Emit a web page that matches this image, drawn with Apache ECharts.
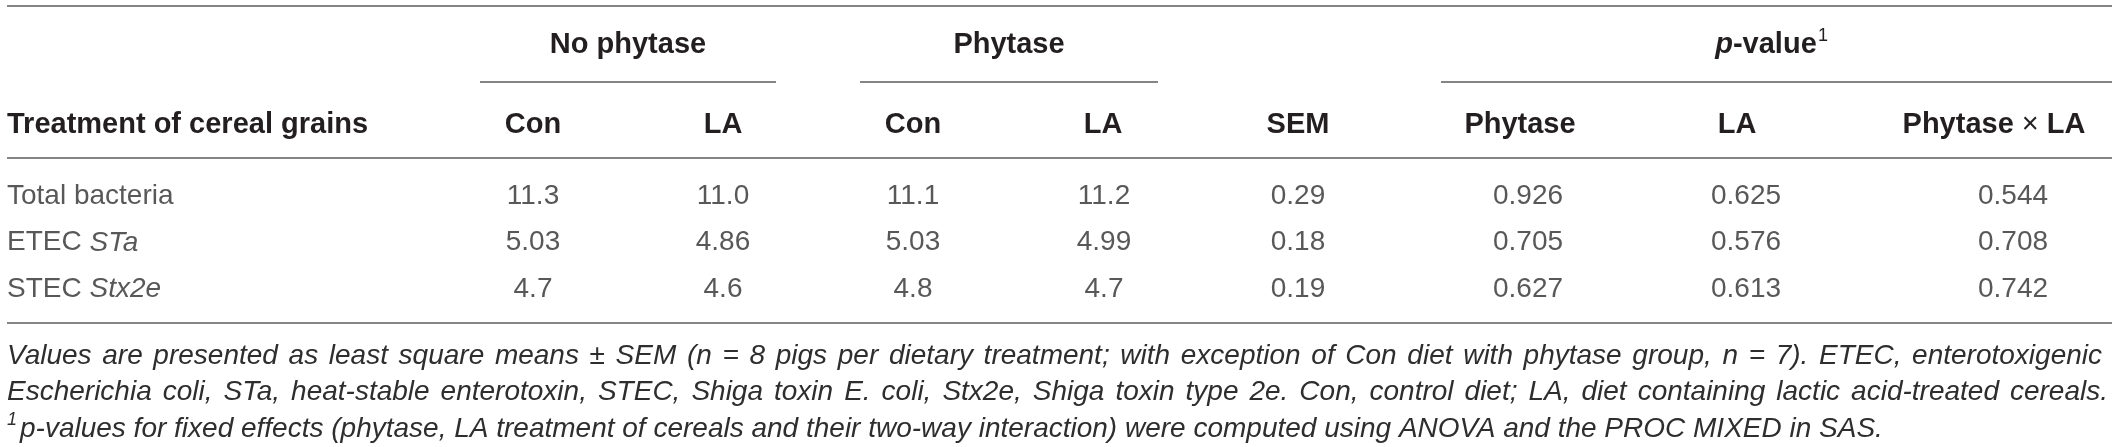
<!DOCTYPE html>
<html>
<head>
<meta charset="utf-8">
<title>Table</title>
<script src="https://cdn.jsdelivr.net/npm/echarts@6/dist/echarts.min.js"></script>
<style>
html, body { margin: 0; padding: 0; background: #fff; }
#tb { width: 2118px; height: 447px; }
</style>
</head>
<body>
<div id="tb"></div>
<script>
// 表格数据
var groupHeads = ['No phytase', 'Phytase', 'p-value']
var colHeads = ['Con', 'LA', 'Con', 'LA', 'SEM', 'Phytase', 'LA', 'Phytase × LA']
var rowHead = 'Treatment of cereal grains'
var rowNames = [['Total bacteria', ''], ['ETEC ', 'STa'], ['STEC ', 'Stx2e']]
var noPhyCon = ['11.3', '5.03', '4.7']
var noPhyLA = ['11.0', '4.86', '4.6']
var phyCon = ['11.1', '5.03', '4.8']
var phyLA = ['11.2', '4.99', '4.7']
var sem = ['0.29', '0.18', '0.19']
var pPhytase = ['0.926', '0.705', '0.627']
var pLA = ['0.625', '0.576', '0.613']
var pInter = ['0.544', '0.708', '0.742']
var noteLines = [
	'Values are presented as least square means ± SEM (n = 8 pigs per dietary treatment; with exception of Con diet with phytase group, n = 7). ETEC, enterotoxigenic',
	'Escherichia coli, STa, heat-stable enterotoxin, STEC, Shiga toxin E. coli, Stx2e, Shiga toxin type 2e. Con, control diet; LA, diet containing lactic acid-treated cereals.',
	'p-values for fixed effects (phytase, LA treatment of cereals and their two-way interaction) were computed using ANOVA and the PROC MIXED in SAS.'
]

// 版式
var FONT = '"Liberation Sans", Arial, Helvetica, sans-serif'
var INK = '#231f20' // 表头
var BODY = '#2e2e2e' // 正文，略浅
var RULE = '#858585'
var colX = [533, 723, 913, 1104, 1298, 1528, 1746, 2013] // 数值列中心
var headX = [533, 723, 913, 1103, 1298, 1520, 1737, 1994] // 表头列中心
var groupX = [628, 1009, 1766]
var groupLine = [[480, 776], [860, 1158], [1441, 2112]]
var leftX = 7, rightX = 2112

var columns = [noPhyCon, noPhyLA, phyCon, phyLA, sem, pPhytase, pLA, pInter]

// 画布测字宽，用于两端对齐的注释
var ctx = document.createElement('canvas').getContext('2d')
ctx.font = 'italic 28px ' + FONT

function textEl(x, y, txt, opt) {
	opt = opt || {}
	return {
		type: 'text', x: x, y: y, silent: true,
		style: Object.assign({
			text: txt, fill: BODY, fontFamily: FONT, fontSize: 28,
			align: 'left', verticalAlign: 'middle'
		}, opt)
	}
}

function headEl(x, y, txt, opt) {
	return textEl(x, y, txt, Object.assign({ fontWeight: 'bold', fontSize: 29, fill: INK, align: 'center' }, opt || {}))
}

function ruleEl(x1, x2, y) {
	return {
		type: 'line', silent: true,
		shape: { x1: x1, y1: y, x2: x2, y2: y },
		style: { stroke: RULE, lineWidth: 2 }
	}
}

function justifyLine(line, x0, x1, y) {
	var words = line.split(' ')
	var widths = words.map(function(w) { return ctx.measureText(w).width })
	var total = widths.reduce(function(a, b) { return a + b }, 0)
	var gap = (x1 - x0 - total) / (words.length - 1)
	var out = []
	var x = x0
	words.forEach(function(w, i) {
		out.push(textEl(x, y, w, { fontStyle: 'italic' }))
		x += widths[i] + gap
	})
	return out
}

var graphics = []
// 横线
graphics.push(ruleEl(leftX, rightX, 6))
groupLine.forEach(function(g) { graphics.push(ruleEl(g[0], g[1], 82)) })
graphics.push(ruleEl(leftX, rightX, 158))
graphics.push(ruleEl(leftX, rightX, 323))

// 分组表头
graphics.push(headEl(groupX[0], 45, groupHeads[0]))
graphics.push(headEl(groupX[1], 45, groupHeads[1]))
graphics.push(headEl(groupX[2], 45, '{pi|p}{b|-value}', {
	rich: {
		pi: { fontFamily: FONT, fontSize: 29, fontWeight: 'bold', fontStyle: 'italic', fill: INK },
		b: { fontFamily: FONT, fontSize: 29, fontWeight: 'bold', fill: INK }
	}
}))
graphics.push(textEl(groupX[2] + 52, 36, '1', { fontSize: 18, fill: INK }))

// 列表头
graphics.push(headEl(leftX, 125, rowHead, { align: 'left' }))
colHeads.forEach(function(h, i) {
	if (h.indexOf('×') > -1) {
		var parts = h.split('×')
		graphics.push(headEl(headX[i], 125, '{b|' + parts[0] + '}{x|×}{b|' + parts[1] + '}', {
			rich: {
				b: { fontFamily: FONT, fontSize: 29, fontWeight: 'bold', fill: INK },
				x: { fontFamily: FONT, fontSize: 29, fill: INK }
			}
		}))
	} else {
		graphics.push(headEl(headX[i], 125, h))
	}
})

// 注释
graphics = graphics.concat(justifyLine(noteLines[0], leftX, 2102, 356))
graphics = graphics.concat(justifyLine(noteLines[1], leftX, 2108, 392))
graphics.push(textEl(leftX, 420, '1', { fontStyle: 'italic', fontSize: 18 }))
graphics.push(textEl(20, 429, noteLines[2], { fontStyle: 'italic' }))

// 表体：行名和数值用散点标签放到坐标轴上
var nameData = rowNames.map(function(r, i) { return [leftX, i, r] })
var cellData = []
columns.forEach(function(col, j) {
	col.forEach(function(v, i) {
		cellData.push([colX[j], i, v])
	})
})

var option = {
	animation: false,
	grid: { left: 0, right: 0, top: 173, height: 139.5 },
	xAxis: { type: 'value', min: 0, max: 2118, show: false },
	yAxis: {
		type: 'category', inverse: true, show: false,
		data: rowNames.map(function(r) { return r[0] + r[1] })
	},
	graphic: graphics,
	series: [{
		type: 'scatter', silent: true, symbolSize: 0,
		data: nameData,
		label: {
			show: true, position: 'inside', align: 'left', verticalAlign: 'middle',
			formatter: function(p) {
				var r = p.data[2]
				return r[1] ? '{n|' + r[0] + '}{i|' + r[1] + '}' : '{n|' + r[0] + '}'
			},
			rich: {
				n: { fontFamily: FONT, fontSize: 28, color: BODY },
				i: { fontFamily: FONT, fontSize: 28, fontStyle: 'italic', color: BODY }
			}
		}
	}, {
		type: 'scatter', silent: true, symbolSize: 0,
		data: cellData,
		label: {
			show: true, position: 'inside', align: 'center', verticalAlign: 'middle',
			fontFamily: FONT, fontSize: 28, color: BODY,
			formatter: function(p) { return p.data[2] }
		}
	}]
}

var myChart = echarts.init(document.getElementById('tb'))
myChart.setOption(option)
</script>
</body>
</html>
